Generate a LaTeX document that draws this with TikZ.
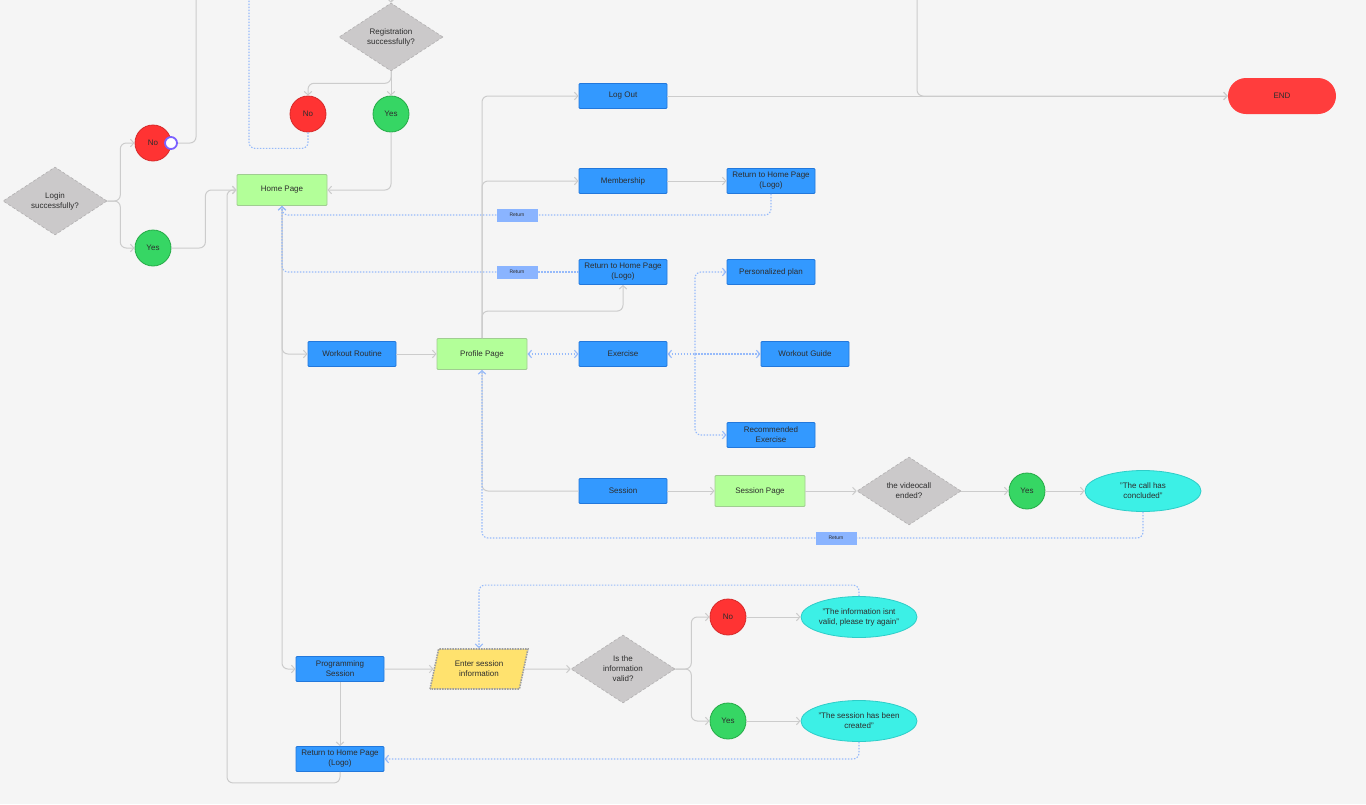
\documentclass[tikz,border=0pt]{standalone}
\usepackage{fontspec}
\setmainfont{Liberation Sans}
\usepackage{xcolor}
\definecolor{fondo}{RGB}{245,245,245}
\definecolor{linea}{RGB}{204,204,204}
\definecolor{punteado}{RGB}{150,186,250}
\definecolor{texto}{RGB}{45,45,45}
\definecolor{azul}{RGB}{51,153,255}
\definecolor{azulBorde}{RGB}{34,120,220}
\definecolor{verdeClaro}{RGB}{179,255,153}
\definecolor{verdeBorde}{RGB}{160,205,145}
\definecolor{rojo}{RGB}{255,51,51}
\definecolor{rojoBorde}{RGB}{214,40,40}
\definecolor{verde}{RGB}{54,214,100}
\definecolor{verdeOscuro}{RGB}{36,170,70}
\definecolor{gris}{RGB}{203,201,202}
\definecolor{grisBorde}{RGB}{178,176,177}
\definecolor{cian}{RGB}{60,240,230}
\definecolor{cianBorde}{RGB}{45,205,200}
\definecolor{amarillo}{RGB}{255,226,110}
\definecolor{celeste}{RGB}{138,180,255}
\definecolor{morado}{RGB}{123,97,255}
\usepackage{tikz}
\usetikzlibrary{arrows.meta,shapes.geometric,calc}
\tikzstyle{edge}  =[draw=linea, line width=1pt, rounded corners=6pt,
                    >={Straight Barb[length=3.5pt,width=7.5pt]}]
\tikzstyle{ret}   =[draw=punteado, line width=1.1pt,
                    dash pattern=on 1.5pt off 1.5pt, rounded corners=6pt,
                    >={Straight Barb[length=3.5pt,width=7.5pt]}]
\tikzstyle{btn}   =[rectangle, fill=azul, draw=azulBorde, line width=0.8pt,
                    minimum width=88pt, minimum height=25pt, inner sep=0pt,
                    rounded corners=1pt, align=center, text=texto,
                    font=\fontsize{8}{10}\selectfont]
\tikzstyle{page}  =[rectangle, fill=verdeClaro, draw=verdeBorde, line width=0.8pt,
                    minimum width=90pt, minimum height=31pt, inner sep=0pt,
                    rounded corners=1pt, align=center, text=texto,
                    font=\fontsize{8}{10}\selectfont]
\tikzstyle{no}    =[circle, fill=rojo, draw=rojoBorde, line width=0.8pt,
                    minimum size=36pt, inner sep=0pt, text=texto,
                    font=\fontsize{8}{10}\selectfont]
\tikzstyle{yes}   =[circle, fill=verde, draw=verdeOscuro, line width=0.8pt,
                    minimum size=36pt, inner sep=0pt, text=texto,
                    font=\fontsize{8}{10}\selectfont]
\tikzstyle{decision}=[diamond, aspect=1.5, fill=gris, draw=grisBorde,
                    densely dashed, line width=0.6pt, minimum width=104pt,
                    minimum height=68pt, inner sep=0pt, align=center,
                    text=texto, font=\fontsize{8}{10}\selectfont]
\tikzstyle{msg}   =[ellipse, fill=cian, draw=cianBorde, line width=0.8pt,
                    minimum width=116pt, minimum height=41pt, inner sep=0pt,
                    align=center, text=texto, font=\fontsize{8}{10}\selectfont]
\tikzstyle{input} =[trapezium, trapezium left angle=72, trapezium right angle=108,
                    trapezium stretches=true, fill=amarillo, draw=gray!75,
                    line width=1.6pt, densely dotted, minimum width=98pt,
                    minimum height=40pt, inner sep=0pt, align=center,
                    text=texto, font=\fontsize{8}{10}\selectfont]
\tikzstyle{finish}=[rectangle, fill=rojo!95!white, rounded corners=18pt,
                    minimum width=108pt, minimum height=36pt, inner sep=0pt,
                    text=texto, font=\fontsize{8}{10}\selectfont]
\tikzstyle{tag}   =[rectangle, fill=celeste, minimum width=41pt,
                    minimum height=13pt, inner sep=0pt, text=texto,
                    font=\fontsize{5}{6}\selectfont]
\tikzstyle{handle}=[circle, fill=white, draw=morado, line width=1.8pt,
                    minimum size=12pt, inner sep=0pt]

\begin{document}
\begin{tikzpicture}[x=1pt,y=-1pt]

    \useasboundingbox (0,0) rectangle (1366,804);
    \fill[fondo] (0,0) rectangle (1366,804);

    % left column: login and registration
    \draw (55,201) node (login) [decision] {Login\\successfully?};
    \draw (153,143) node (loginNo) [no] {No};
    \draw (153,248) node (loginYes) [yes] {Yes};
    \draw (391,37) node (reg) [decision] {Registration\\successfully?};
    \draw (308,114) node (regNo) [no] {No};
    \draw (391,114) node (regYes) [yes] {Yes};
    \draw (282,190) node (home) [page] {Home Page};
    \coordinate (topA) at (196,0);
    \coordinate (topB) at (391,0);
    \coordinate (topC) at (249,0);
    \coordinate (topD) at (917,0);

    % menu branch
    \draw (623,96) node (logout) [btn] {Log Out};
    \draw (1282,96) node (end) [finish] {END};
    \draw (623,181) node (member) [btn] {Membership};
    \draw (771,181) node (retA) [btn] {Return to Home Page\\(Logo)};
    \draw (623,272) node (retB) [btn] {Return to Home Page\\(Logo)};
    \draw (771,272) node (plan) [btn] {Personalized plan};
    \draw (352,354) node (routine) [btn] {Workout Routine};
    \draw (482,354) node (profile) [page] {Profile Page};
    \draw (623,354) node (exercise) [btn] {Exercise};
    \draw (805,354) node (guide) [btn] {Workout Guide};
    \draw (771,435) node (recom) [btn] {Recommended\\Exercise};
    \coordinate (fan) at (695,354);

    % session branch
    \draw (623,491) node (session) [btn] {Session};
    \draw (760,491) node (spage) [page] {Session Page};
    \draw (909,491) node (ended) [decision] {the videocall\\ended?};
    \draw (1027,491) node (endYes) [yes] {Yes};
    \draw (1143,491) node (concl) [msg] {"The call has\\concluded"};

    % programming branch
    \draw (340,669) node (prog) [btn] {Programming\\Session};
    \draw (479,669) node (enter) [input] {Enter session\\information};
    \draw (623,669) node (valid) [decision] {Is the\\information\\valid?};
    \draw (728,617) node (validNo) [no] {No};
    \draw (728,721) node (validYes) [yes] {Yes};
    \draw (859,617) node (invalid) [msg] {"The information isnt\\valid, please try again"};
    \draw (859,721) node (created) [msg] {"The session has been\\created"};
    \draw (340,759) node (retC) [btn] {Return to Home Page\\(Logo)};

    % return tags
    \draw (517,215) node (tagA) [tag] {Return};
    \draw (517,272) node (tagB) [tag] {Return};
    \draw (836,538) node (tagC) [tag] {Return};

    % solid connectors
    \foreach \i/\j in{routine/profile,logout/end,member/retA,session/spage,
        spage/ended,ended/endYes,endYes/concl,prog/enter,enter/valid,
        validNo/invalid,validYes/created,prog/retC}
        \draw [edge,->] (\i) to (\j);

    \draw [edge,->] (login.east) -- ++(13,0) |- (loginNo.west);
    \draw [edge,->] (login.east) -- ++(13,0) |- (loginYes.west);
    \draw [edge] (loginNo.east) -| (topA);
    \draw [edge,->] (loginYes.east) -- ++(34,0) |- (home.west);
    \draw [edge,->] (topB) -- (reg.north);
    \draw [edge,->] (reg.south) -- ++(0,12) -| (regNo.north);
    \draw [edge,->] (reg.south) -- (regYes.north);
    \draw [edge,->] (regYes.south) |- (home.east);
    \draw [edge,->] (home.south) |- (routine.west);
    \draw [edge,->] (home.south) |- (prog.west);
    \draw [edge,->] (profile.north) |- (logout.west);
    \draw [edge,->] (profile.north) |- (member.west);
    \draw [edge,->] (profile.north) -- ++(0,-27) -| (retB.south);
    \draw [edge,->] (topD) |- (end.west);
    \draw [edge] (profile.south) |- (session.west);
    \draw [edge,->] (valid.east) -- ++(16,0) |- (validNo.west);
    \draw [edge,->] (valid.east) -- ++(16,0) |- (validYes.west);
    \draw [edge,->] (retC.south) -- ++(0,11) -- ++(-113,0) |- (home.west);

    % dotted returns
    \draw [ret] (regNo.south) -- ++(0,16) -| (topC);
    \draw [ret] (retA.south) |- (tagA.east);
    \draw [ret,->] (tagA.west) -| (home.south);
    \draw [ret] (retB.west) -- (tagB.east);
    \draw [ret,->] (tagB.west) -| (home.south);
    \draw [ret,<->] (profile.east) -- (exercise.west);
    \draw [ret,<-] (exercise.east) -- (fan);
    \draw [ret,->] (fan) |- (plan.west);
    \draw [ret,->] (fan) -- (guide.west);
    \draw [ret,->] (fan) |- (recom.west);
    \draw [ret] (concl.south) |- (tagC.east);
    \draw [ret,->] (tagC.west) -| (profile.south);
    \draw [ret,->] (invalid.north) -- ++(0,-11) -| (enter.north);
    \draw [ret,->] (created.south) |- (retC.east);

    \draw (171,143) node (grip) [handle] {};

\end{tikzpicture}
\end{document}
